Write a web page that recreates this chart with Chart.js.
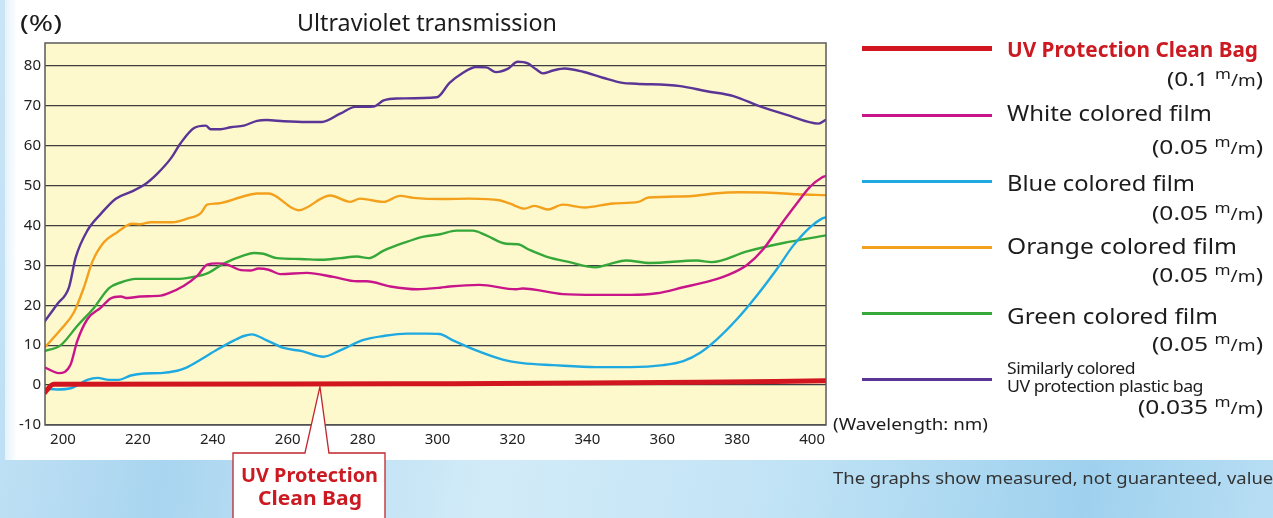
<!DOCTYPE html>
<html>
<head>
<meta charset="utf-8">
<script src="https://cdn.jsdelivr.net/npm/chart.js@4/dist/chart.umd.min.js"></script>
<style>
html,body{margin:0;padding:0;width:1273px;height:518px;overflow:hidden;font-family:"Noto Sans","Open Sans",sans-serif;}
body{position:relative;background:linear-gradient(100deg,#c9e5f6 0%,#a9d5f0 18%,#d2ebf8 42%,#c3e4f6 62%,#9fd1ee 86%,#b8def4 100%);}
#panel{position:absolute;left:5px;top:0;width:1268px;height:460px;background:linear-gradient(90deg,#e4f2fb 0,#ffffff 12px);}
#c{position:absolute;left:0;top:0;}
.t{position:absolute;white-space:nowrap;line-height:1;color:#1c1c1c;transform-origin:0 50%;}
.ln{position:absolute;left:862px;width:130px;}
.mm1{font-size:.7em;position:relative;top:-.5em;}
.mm2{font-size:.78em;}
.red{color:#cc1a22;font-weight:700;}
</style>
</head>
<body>
<div id="panel"></div>
<canvas id="c" width="1273" height="518"></canvas>

<div class="t" data-x="20" data-y="22" data-w="42" style="font-size:22px">(%)</div>
<div class="t" data-x="297" data-y="22" data-w="260" style="font-size:23px">Ultraviolet transmission</div>
<div class="t" data-x="833" data-y="423" data-w="155" style="font-size:17px">(Wavelength: nm)</div>

<div class="ln" style="top:45.5px;height:5px;background:#d2161f"></div>
<div class="ln" style="top:114px;height:2.5px;background:#c8168a"></div>
<div class="ln" style="top:180px;height:2.5px;background:#1fa9e1"></div>
<div class="ln" style="top:246px;height:2.5px;background:#f3a01c"></div>
<div class="ln" style="top:312px;height:2.5px;background:#36a83a"></div>
<div class="ln" style="top:378px;height:2.5px;background:#5a3596"></div>

<div class="t red" data-x="1007" data-y="48" data-w="251" style="font-size:22px">UV Protection Clean Bag</div>
<div class="t" data-x="1167" data-y="79" data-w="96" style="font-size:20px">(0.1 <span class="mm1">m</span><span class="mm2">/m</span>)</div>
<div class="t" data-x="1007" data-y="112" data-w="205" style="font-size:22px">White colored film</div>
<div class="t" data-x="1152" data-y="147" data-w="111" style="font-size:20px">(0.05 <span class="mm1">m</span><span class="mm2">/m</span>)</div>
<div class="t" data-x="1007" data-y="182" data-w="188" style="font-size:22px">Blue colored film</div>
<div class="t" data-x="1152" data-y="213" data-w="111" style="font-size:20px">(0.05 <span class="mm1">m</span><span class="mm2">/m</span>)</div>
<div class="t" data-x="1007" data-y="245" data-w="230" style="font-size:22px">Orange colored film</div>
<div class="t" data-x="1152" data-y="275" data-w="111" style="font-size:20px">(0.05 <span class="mm1">m</span><span class="mm2">/m</span>)</div>
<div class="t" data-x="1007" data-y="315" data-w="211" style="font-size:22px">Green colored film</div>
<div class="t" data-x="1152" data-y="344" data-w="111" style="font-size:20px">(0.05 <span class="mm1">m</span><span class="mm2">/m</span>)</div>
<div class="t" data-x="1007" data-y="367" data-w="128" style="font-size:17px;letter-spacing:-0.5px">Similarly colored</div>
<div class="t" data-x="1007" data-y="385" data-w="196" style="font-size:17px;letter-spacing:-0.5px">UV protection plastic bag</div>
<div class="t" data-x="1138" data-y="407" data-w="125" style="font-size:20px">(0.035 <span class="mm1">m</span><span class="mm2">/m</span>)</div>

<div class="t" data-x="833" data-y="477" data-w="454" style="font-size:17px;color:#333">The graphs show measured, not guaranteed, values.</div>

<div class="t red" data-x="241" data-y="475" data-w="137" style="font-size:20px">UV Protection</div>
<div class="t red" data-x="258" data-y="498" data-w="104" style="font-size:20px">Clean Bag</div>

<script>
// ---- Data (wavelength in nm, transmission in %) ----
const xTickStep = 20;
const yTickStep = 10;

const redWl   = [195, 197.5, 260, 300, 340, 370, 390, 403.7];
const redVal  = [-2.0, 0.2, 0.25, 0.35, 0.5, 0.7, 0.9, 1.1];

const whiteWl  = [195, 198.9, 202, 203.8, 206.5, 210.1, 212.7, 215.4, 217.2, 220.7, 226.1, 227.9, 232.3, 235.9, 238.5, 241.2, 243.9, 247.5, 250, 252.2, 254.9, 258, 265.1, 272.2, 278.5, 281.1, 287.4, 294.5, 300.7, 303.2, 311.2, 321, 322.7, 333.4, 342.3, 351.4, 358.5, 365.6, 372.8, 378.1, 382.6, 387, 391.5, 395.9, 399.5, 402.6, 403.7];
const whiteVal = [4.5, 3.0, 5.1, 11.0, 16.5, 19.4, 21.7, 22.2, 21.8, 22.2, 22.4, 22.9, 24.9, 27.4, 30.2, 30.5, 30.2, 28.8, 28.7, 29.2, 28.9, 27.8, 28.1, 27.1, 26.0, 26.0, 24.7, 24.0, 24.4, 24.7, 25.1, 24.0, 24.2, 22.8, 22.6, 22.6, 23.0, 24.5, 26.1, 27.8, 30.1, 34.1, 40.0, 45.5, 49.7, 52.0, 52.4];

const blueWl  = [195, 198.5, 202, 206.5, 209.2, 212.3, 214.9, 218.1, 221.6, 226.1, 230.5, 232.8, 236.8, 241.2, 245.7, 248.3, 250.4, 254.4, 258.9, 263.8, 269.5, 274, 280.2, 285.6, 291.8, 297.1, 300.5, 304.1, 310.3, 317.4, 322.7, 330.8, 342.3, 351.4, 360.3, 365.6, 370.1, 374.5, 379.9, 385.2, 390.6, 395, 399.5, 402.6, 403.7];
const blueVal = [-0.9, -1.1, -0.8, 1.3, 1.8, 1.3, 1.3, 2.4, 2.9, 3.0, 3.6, 4.3, 6.4, 8.9, 11.2, 12.3, 12.7, 11.2, 9.3, 8.5, 7.1, 8.7, 11.3, 12.3, 12.9, 12.9, 12.8, 11.2, 8.7, 6.4, 5.5, 5.0, 4.5, 4.5, 5.0, 6.0, 8.1, 11.4, 16.5, 22.4, 29.1, 35.0, 39.6, 41.7, 42.1];

const orangeWl  = [195, 199.4, 202.9, 205.6, 207.8, 210.6, 214.5, 218.5, 220.7, 223.4, 229.2, 233.2, 236.8, 238.5, 241.2, 248.3, 251.8, 254.9, 262.9, 271.3, 276.7, 279.3, 285.6, 290, 293.6, 301.4, 308.5, 316.5, 319.2, 323.2, 325.9, 329.4, 333.4, 339.2, 346.8, 353.6, 356.3, 367.4, 373.7, 380.8, 388.8, 395.9, 403.7];
const orangeVal = [9.3, 13.9, 18.2, 24.5, 30.8, 35.4, 38.3, 40.4, 40.3, 40.8, 40.8, 41.7, 43.1, 45.2, 45.5, 47.3, 48.0, 48.0, 43.8, 47.5, 45.9, 46.7, 45.9, 47.4, 46.9, 46.6, 46.7, 46.3, 45.5, 44.2, 44.9, 44.0, 45.2, 44.5, 45.5, 45.9, 47.0, 47.3, 48.0, 48.3, 48.2, 47.8, 47.6];

const greenWl  = [195, 199.4, 203.8, 208.3, 212.3, 215.4, 219.4, 230.5, 234.1, 238.5, 243, 248.3, 250.9, 253.5, 257.1, 263.3, 269.1, 274, 278.5, 281.6, 285.6, 290.9, 296.3, 300.7, 305, 309.4, 313, 318.3, 321.4, 324.5, 329, 335.2, 342.3, 345.9, 350.3, 356.7, 369.2, 373.2, 382.6, 392.3, 403.7];
const greenVal = [8.5, 10.0, 14.8, 19.4, 24.3, 25.7, 26.6, 26.6, 27.0, 28.0, 30.5, 32.5, 33.1, 32.9, 31.8, 31.6, 31.4, 31.8, 32.2, 31.8, 33.7, 35.6, 37.2, 37.8, 38.7, 38.7, 37.5, 35.4, 35.3, 33.9, 32.2, 30.8, 29.5, 30.3, 31.2, 30.6, 31.2, 30.8, 33.5, 35.6, 37.5];

const purpleWl  = [195, 198.5, 201.6, 203.4, 206.5, 210.1, 214.1, 218.1, 221.6, 225.2, 228.8, 231.4, 235, 238.1, 239.4, 242.1, 244.8, 248.3, 251.8, 254.4, 258.9, 265.1, 269.1, 274, 278, 282.9, 285.6, 289.1, 299.8, 303.2, 306.7, 310.3, 313, 315.6, 318.7, 321.4, 324.1, 326.3, 328.1, 330.8, 333.9, 338.8, 344.1, 349.4, 353, 364.8, 371.9, 379, 386.1, 393.2, 401.7, 403.7];
const purpleVal = [15.8, 20.3, 24.5, 32.0, 38.7, 42.9, 46.7, 48.4, 50.1, 53.0, 56.8, 60.6, 64.4, 65.0, 64.1, 64.1, 64.6, 65.0, 66.2, 66.4, 66.1, 65.9, 65.9, 68.0, 69.7, 69.8, 71.3, 71.8, 72.1, 75.7, 78.2, 79.7, 79.6, 78.4, 79.2, 81.0, 80.6, 79.1, 78.1, 78.8, 79.3, 78.5, 77.0, 75.7, 75.5, 74.9, 73.6, 72.4, 69.8, 67.7, 65.5, 66.5];

const seriesNames = ["UV Protection Clean Bag", "White colored film", "Blue colored film", "Orange colored film", "Green colored film", "Similarly colored UV protection plastic bag"];
const calloutWl = 268.6;

// ---- fit text blocks ----
document.querySelectorAll('.t').forEach(el => {
  const x = +el.dataset.x, y = +el.dataset.y;
  el.style.left = x + 'px';
  el.style.top = y + 'px';
  let tr = 'translateY(-50%)';
  if (el.dataset.w) {
    const w = el.getBoundingClientRect().width;
    tr += ' scaleX(' + (+el.dataset.w / w) + ')';
  }
  el.style.transform = tr;
});

const zip = (xs, ys) => xs.map((x, i) => ({x: x, y: ys[i]}));

const bgFrame = {
  id: 'bgFrame',
  beforeDraw(ch) {
    const {ctx, chartArea: a} = ch;
    ctx.save();
    ctx.fillStyle = '#fdf9cd';
    ctx.fillRect(a.left, a.top, a.right - a.left, a.bottom - a.top);
    ctx.restore();
  },
  afterDatasetsDraw(ch) {
    const {ctx, chartArea: a} = ch;
    ctx.save();
    ctx.strokeStyle = '#5a5a5a';
    ctx.lineWidth = 1.5;
    ctx.strokeRect(a.left, a.top, a.right - a.left, a.bottom - a.top);
    // callout
    const xs = ch.scales.x, ys = ch.scales.y;
    const tipX = xs.getPixelForValue(calloutWl);
    const tipY = ys.getPixelForValue(0.25) + 2.5;
    const top = 453;
    ctx.beginPath();
    ctx.moveTo(233, 540);
    ctx.lineTo(233, top);
    ctx.lineTo(tipX - 15, top);
    ctx.lineTo(tipX, tipY);
    ctx.lineTo(tipX + 9, top);
    ctx.lineTo(385, top);
    ctx.lineTo(385, 540);
    ctx.closePath();
    ctx.fillStyle = '#ffffff';
    ctx.fill();
    ctx.strokeStyle = '#c0262c';
    ctx.lineWidth = 1.3;
    ctx.stroke();
    ctx.restore();
  }
};

const mk = (label, xs, ys, color, w) => ({
  label: label, data: zip(xs, ys), borderColor: color, backgroundColor: color,
  borderWidth: w, pointRadius: 0, fill: false, cubicInterpolationMode: 'monotone'
});

new Chart(document.getElementById('c'), {
  type: 'line',
  data: {
    datasets: [
      mk(seriesNames[0], redWl, redVal, '#d2161f', 5),
      mk(seriesNames[1], whiteWl, whiteVal, '#c8168a', 2.4),
      mk(seriesNames[2], blueWl, blueVal, '#1fa9e1', 2.4),
      mk(seriesNames[3], orangeWl, orangeVal, '#f3a01c', 2.4),
      mk(seriesNames[4], greenWl, greenVal, '#36a83a', 2.4),
      mk(seriesNames[5], purpleWl, purpleVal, '#5a3596', 2.4)
    ]
  },
  options: {
    responsive: false,
    animation: false,
    events: [],
    layout: {padding: {left: 0, top: 43, right: 447, bottom: 0}},
    plugins: {legend: {display: false}, title: {display: false}, tooltip: {enabled: false}},
    scales: {
      x: {
        type: 'linear', min: 195.2, max: 403.7,
        afterFit(s) { s.height = 93; },
        grid: {display: false, drawTicks: false},
        border: {display: false},
        ticks: {stepSize: xTickStep, includeBounds: false, padding: 6, color: '#222',
          font: {family: '"Noto Sans", sans-serif', size: 15},
          callback: v => (v % 20 === 0 ? v : '')}
      },
      y: {
        min: -10, max: 85.7,
        afterFit(s) { s.width = 45; },
        grid: {color: '#3e3e3e', lineWidth: 1.3, drawTicks: false},
        border: {display: false},
        ticks: {stepSize: yTickStep, includeBounds: false, padding: 4, color: '#222',
          font: {family: '"Noto Sans", sans-serif', size: 15},
          callback: v => (v % 10 === 0 ? v : '')}
      }
    }
  },
  plugins: [bgFrame]
});
</script>
</body>
</html>
